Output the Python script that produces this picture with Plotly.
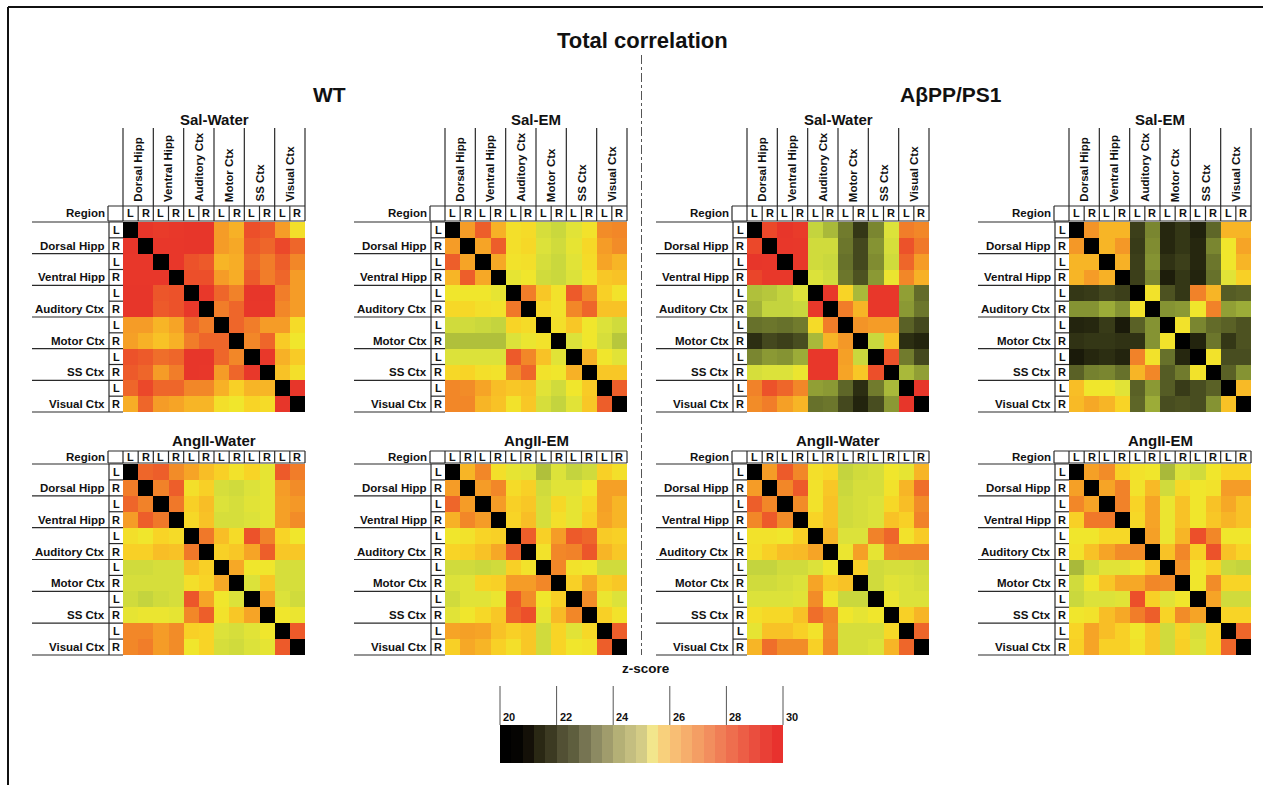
import plotly.graph_objects as go

# ---------------- data ----------------
REGIONS = ["Dorsal Hipp", "Ventral Hipp", "Auditory Ctx", "Motor Ctx", "SS Ctx", "Visual Ctx"]
SIDES = ["L", "R"]
CELLS = [f"{r} {s}" for r in REGIONS for s in SIDES]
GROUP_TITLES = ["WT", "AβPP/PS1"]
MAIN_TITLE = "Total correlation"
CBAR_TITLE = "z-score"

WT_SAL_WATER = [
    [20.0, 29.5, 29.2, 29.3, 29.5, 29.5, 26.8, 26.3, 28.6, 28.3, 26.8, 25.2],
    [29.5, 20.0, 29.4, 29.4, 29.5, 29.5, 26.8, 26.5, 28.3, 28.0, 28.8, 28.0],
    [29.4, 29.4, 20.0, 29.4, 28.5, 28.3, 26.2, 26.4, 28.0, 27.5, 28.2, 27.3],
    [29.4, 29.4, 29.4, 20.0, 28.6, 28.6, 26.8, 26.4, 28.3, 27.5, 28.0, 26.8],
    [29.5, 29.5, 28.4, 28.5, 20.0, 29.3, 28.0, 27.4, 29.5, 29.5, 27.5, 26.8],
    [29.5, 29.5, 28.3, 28.5, 29.3, 20.0, 27.5, 28.0, 29.4, 29.4, 27.3, 26.8],
    [26.8, 26.8, 26.2, 26.6, 28.0, 27.5, 20.0, 28.0, 27.5, 26.8, 26.8, 25.3],
    [26.7, 26.3, 25.9, 26.3, 27.5, 28.0, 28.0, 20.0, 27.3, 28.0, 25.7, 25.0],
    [28.5, 28.3, 27.8, 28.0, 29.5, 29.5, 28.0, 27.3, 20.0, 29.3, 26.3, 25.7],
    [28.3, 28.0, 26.8, 27.5, 29.5, 29.4, 26.8, 28.0, 29.3, 20.0, 25.9, 25.2],
    [28.0, 28.8, 28.0, 28.0, 27.3, 27.3, 26.3, 25.6, 26.2, 26.2, 20.0, 29.5],
    [26.4, 28.0, 26.8, 26.6, 26.2, 26.2, 25.2, 25.0, 25.5, 25.3, 29.5, 20.0],
]

WT_SAL_EM = [
    [20.0, 26.8, 28.2, 26.3, 25.2, 25.3, 24.5, 24.3, 24.7, 25.1, 27.2, 27.3],
    [26.8, 20.0, 26.6, 28.2, 25.2, 25.4, 24.6, 24.4, 24.8, 25.4, 26.8, 27.2],
    [28.2, 26.6, 20.0, 26.5, 25.1, 25.2, 24.5, 24.3, 24.7, 25.3, 26.6, 26.2],
    [26.2, 28.2, 26.5, 20.0, 24.8, 25.0, 24.4, 24.3, 24.6, 25.1, 25.8, 25.9],
    [25.0, 25.0, 25.0, 24.8, 20.0, 27.5, 25.8, 25.1, 28.3, 27.3, 25.6, 25.1],
    [25.4, 25.4, 25.2, 25.1, 27.6, 20.0, 25.4, 25.1, 27.3, 28.0, 25.9, 25.9],
    [24.4, 24.4, 24.3, 24.2, 25.5, 25.3, 20.0, 25.2, 25.8, 25.0, 24.6, 24.4],
    [23.9, 23.9, 23.9, 23.9, 24.6, 24.9, 25.1, 20.0, 24.6, 25.0, 24.5, 24.0],
    [24.6, 24.6, 24.6, 24.6, 28.3, 27.3, 25.9, 24.7, 20.0, 26.3, 25.0, 24.7],
    [25.4, 25.5, 25.2, 25.1, 27.2, 28.0, 25.1, 25.0, 26.3, 20.0, 25.8, 25.8],
    [27.3, 27.2, 26.6, 26.0, 25.8, 25.9, 24.7, 24.4, 25.0, 25.7, 20.0, 28.2],
    [27.3, 27.3, 26.2, 25.9, 25.1, 25.8, 24.5, 24.2, 24.7, 25.8, 28.2, 20.0],
]

APP_SAL_WATER = [
    [20.0, 28.8, 29.5, 29.2, 24.2, 23.8, 22.8, 21.4, 23.0, 24.6, 27.5, 27.3],
    [28.8, 20.0, 29.4, 29.3, 24.4, 24.4, 22.7, 21.8, 23.2, 24.5, 28.5, 27.6],
    [29.5, 29.4, 20.0, 29.3, 24.4, 24.3, 22.6, 21.8, 23.1, 24.4, 28.0, 26.8],
    [28.9, 29.3, 29.3, 20.0, 24.6, 24.4, 22.7, 22.0, 23.3, 24.9, 27.3, 26.3],
    [23.9, 24.0, 24.2, 24.6, 20.0, 29.3, 25.5, 23.8, 29.4, 29.4, 23.4, 22.5],
    [23.7, 24.2, 24.2, 24.3, 29.3, 20.0, 27.5, 26.2, 29.4, 29.4, 23.3, 22.7],
    [22.6, 22.7, 22.6, 22.8, 25.3, 27.5, 20.0, 27.0, 26.8, 26.8, 22.3, 21.8],
    [21.2, 21.8, 21.6, 21.9, 23.8, 26.2, 26.9, 20.0, 24.3, 25.9, 21.2, 20.9],
    [23.0, 23.3, 23.2, 23.6, 29.4, 29.4, 26.7, 24.3, 20.0, 28.5, 22.8, 21.8],
    [24.5, 24.6, 24.6, 24.9, 29.4, 29.4, 26.6, 25.8, 28.6, 20.0, 23.8, 23.4],
    [27.4, 28.5, 28.0, 27.3, 23.4, 23.3, 22.4, 21.2, 22.8, 23.8, 20.0, 29.5],
    [27.2, 27.5, 26.7, 26.2, 22.6, 22.7, 21.8, 20.9, 21.9, 23.3, 29.5, 20.0],
]

APP_SAL_EM = [
    [20.0, 27.0, 26.2, 26.2, 21.6, 23.0, 21.0, 21.4, 20.8, 22.4, 26.2, 26.2],
    [26.9, 20.0, 26.2, 26.9, 21.5, 23.1, 21.0, 21.4, 21.0, 23.0, 25.0, 26.6],
    [26.2, 26.2, 20.0, 26.3, 21.6, 23.2, 21.3, 21.6, 21.0, 22.7, 25.0, 26.2],
    [26.2, 26.8, 26.3, 20.0, 21.6, 23.0, 20.7, 21.4, 20.9, 22.6, 24.7, 25.6],
    [21.4, 21.5, 21.8, 21.6, 20.0, 25.1, 22.0, 21.4, 27.4, 26.2, 22.2, 22.3],
    [23.2, 23.2, 23.6, 23.2, 25.1, 20.0, 23.2, 23.3, 25.0, 27.4, 23.4, 23.6],
    [20.9, 21.0, 21.5, 20.6, 22.3, 23.2, 20.0, 25.1, 23.0, 22.5, 22.3, 22.0],
    [21.3, 21.4, 21.4, 21.3, 21.3, 23.2, 25.1, 20.0, 20.9, 22.7, 21.4, 22.0],
    [20.6, 21.0, 21.2, 20.9, 27.4, 25.1, 22.6, 21.0, 20.0, 25.1, 21.9, 21.9],
    [22.3, 22.9, 23.0, 22.6, 26.2, 27.3, 22.2, 22.8, 25.1, 20.0, 22.3, 23.2],
    [26.0, 25.0, 25.0, 24.7, 22.3, 23.3, 22.2, 21.5, 21.9, 22.3, 20.0, 26.1],
    [26.1, 26.5, 26.2, 25.5, 22.4, 23.6, 21.9, 22.0, 21.9, 23.2, 25.9, 20.0],
]

WT_ANG_WATER = [
    [20.0, 28.0, 28.2, 27.2, 26.6, 26.0, 25.6, 25.1, 25.5, 24.8, 28.3, 27.5],
    [27.5, 20.0, 27.4, 28.2, 25.2, 25.6, 24.5, 24.4, 24.6, 24.8, 26.8, 27.2],
    [28.0, 27.4, 20.0, 27.6, 25.6, 26.0, 24.6, 24.5, 24.7, 24.8, 26.7, 26.9],
    [26.8, 28.2, 27.6, 20.0, 25.4, 25.9, 24.5, 24.5, 24.6, 24.8, 26.7, 27.2],
    [25.2, 25.0, 25.5, 25.3, 20.0, 27.6, 26.0, 25.3, 28.5, 27.4, 25.5, 25.0],
    [25.6, 25.6, 26.0, 25.9, 27.6, 20.0, 25.6, 25.8, 26.6, 28.2, 25.8, 25.8],
    [24.4, 24.4, 24.5, 24.5, 26.0, 25.6, 20.0, 26.5, 25.0, 25.0, 24.5, 24.5],
    [24.5, 24.5, 24.5, 24.5, 25.2, 25.5, 26.5, 20.0, 24.6, 25.8, 24.5, 24.5],
    [24.4, 24.2, 24.4, 24.5, 28.4, 26.6, 25.0, 24.6, 20.0, 26.6, 24.6, 24.4],
    [24.8, 24.9, 24.9, 24.8, 27.3, 28.2, 25.1, 25.8, 26.6, 20.0, 25.0, 24.9],
    [27.3, 27.3, 26.8, 27.2, 25.6, 25.5, 24.6, 24.5, 24.7, 25.0, 20.0, 28.3],
    [27.3, 27.5, 26.8, 27.2, 25.0, 25.5, 24.5, 24.4, 24.6, 24.8, 28.3, 20.0],
]

WT_ANG_EM = [
    [20.0, 26.2, 27.3, 25.2, 24.8, 24.7, 23.9, 24.6, 24.2, 24.4, 25.6, 25.2],
    [26.8, 20.0, 26.8, 27.3, 25.3, 25.6, 24.4, 24.7, 24.7, 25.0, 26.7, 26.7],
    [28.0, 26.8, 20.0, 26.8, 25.6, 25.8, 24.5, 25.4, 24.8, 25.4, 26.7, 26.2],
    [26.3, 27.3, 26.8, 20.0, 25.5, 26.0, 24.5, 25.2, 24.8, 25.6, 26.6, 26.2],
    [25.0, 25.1, 25.5, 25.6, 20.0, 28.2, 25.6, 26.8, 28.3, 28.0, 25.7, 25.6],
    [25.5, 25.6, 25.9, 26.5, 28.2, 20.0, 25.1, 27.3, 27.4, 28.4, 26.2, 25.8],
    [24.4, 24.4, 24.3, 24.4, 25.6, 25.1, 20.0, 27.3, 25.1, 25.0, 24.4, 24.4],
    [24.6, 24.7, 25.5, 25.6, 26.8, 26.8, 27.3, 20.0, 25.6, 26.5, 25.6, 25.8],
    [24.4, 24.7, 24.7, 24.9, 28.3, 27.2, 25.0, 25.6, 20.0, 27.2, 24.9, 24.6],
    [24.7, 25.0, 25.4, 25.8, 28.1, 28.6, 24.8, 26.1, 27.3, 20.0, 25.6, 25.1],
    [26.6, 26.7, 26.6, 25.9, 25.6, 25.8, 24.4, 25.5, 24.7, 25.4, 20.0, 28.2],
    [25.6, 26.5, 26.2, 25.6, 25.2, 25.8, 24.4, 25.5, 25.0, 25.1, 28.2, 20.0],
]

APP_ANG_WATER = [
    [20.0, 26.8, 28.3, 27.3, 25.2, 25.4, 24.2, 24.4, 24.5, 25.0, 24.8, 26.2],
    [26.8, 20.0, 27.3, 28.3, 25.1, 25.8, 24.3, 24.5, 24.5, 25.1, 26.2, 27.8],
    [28.2, 27.3, 20.0, 27.2, 25.1, 25.9, 24.4, 24.5, 24.6, 25.4, 26.0, 27.2],
    [27.3, 28.3, 27.2, 20.0, 25.5, 25.9, 24.4, 24.5, 24.6, 25.9, 25.6, 27.4],
    [25.1, 25.1, 25.0, 25.6, 20.0, 26.2, 24.6, 24.6, 27.4, 28.0, 25.1, 25.7],
    [25.2, 25.6, 26.0, 26.1, 26.6, 20.0, 24.9, 26.7, 24.8, 27.3, 27.4, 27.4],
    [24.2, 24.2, 24.4, 24.4, 24.6, 25.0, 20.0, 25.6, 24.4, 24.5, 24.5, 24.4],
    [24.4, 24.4, 24.5, 24.6, 26.6, 25.7, 25.9, 20.0, 24.4, 24.7, 24.6, 24.5],
    [24.6, 24.6, 24.6, 24.7, 27.2, 25.0, 24.3, 24.3, 20.0, 24.9, 24.6, 24.6],
    [25.2, 25.4, 25.4, 25.9, 27.8, 27.3, 25.0, 24.8, 25.0, 20.0, 25.6, 26.2],
    [24.8, 25.9, 25.9, 25.6, 25.1, 27.2, 24.5, 24.5, 24.5, 25.4, 20.0, 28.0],
    [26.2, 27.8, 27.2, 27.2, 25.6, 27.3, 24.5, 24.5, 24.6, 26.2, 28.0, 20.0],
]

APP_ANG_EM = [
    [20.0, 26.7, 27.2, 25.6, 25.1, 25.0, 23.8, 24.6, 24.4, 25.0, 25.5, 25.5],
    [26.7, 20.0, 26.6, 27.4, 25.1, 26.1, 24.4, 25.4, 25.0, 25.1, 26.8, 26.8],
    [27.3, 26.6, 20.0, 27.4, 25.5, 26.6, 24.9, 25.9, 25.0, 25.9, 26.5, 25.9],
    [25.6, 27.6, 27.6, 20.0, 25.4, 26.6, 24.9, 25.9, 25.0, 25.8, 26.2, 25.9],
    [25.0, 25.0, 25.4, 25.4, 20.0, 26.7, 24.9, 26.2, 28.6, 27.3, 25.0, 25.0],
    [25.1, 25.9, 26.6, 27.2, 27.2, 20.0, 25.9, 27.3, 25.6, 28.5, 25.9, 25.5],
    [23.8, 24.4, 24.7, 24.7, 25.0, 25.8, 20.0, 27.0, 25.0, 25.5, 24.3, 24.2],
    [24.4, 25.0, 25.8, 26.5, 26.5, 27.3, 27.2, 20.0, 25.0, 27.2, 25.5, 25.5],
    [24.3, 24.6, 24.6, 24.7, 28.6, 25.6, 24.7, 25.0, 20.0, 26.6, 24.4, 24.4],
    [25.0, 25.1, 26.0, 26.5, 27.5, 28.2, 25.5, 27.2, 26.6, 20.0, 25.5, 25.5],
    [25.5, 26.6, 26.0, 25.6, 25.0, 25.8, 24.4, 25.5, 24.5, 25.5, 20.0, 28.0],
    [25.6, 26.6, 25.6, 25.6, 25.1, 25.8, 24.4, 25.6, 24.6, 25.5, 28.0, 20.0],
]

ZSCALE_TICKS = [20, 22, 24, 26, 28, 30]
ZSCALE_BINS = [20.2, 20.6, 21.0, 21.4, 21.8, 22.2, 22.6, 23.0, 23.4, 23.8,
               24.2, 24.6, 25.0, 25.4, 25.8, 26.2, 26.6, 27.0, 27.4, 27.8,
               28.2, 28.6, 29.0, 29.4, 29.8]

# ---------------- styling ----------------
W, H = 1267, 785
ZMIN, ZMAX = 20, 30
FONT = "Liberation Sans, Arial, sans-serif"
LINE = dict(color="#2a2a2a", width=1.2)

HEAT_STOPS = [
    (20.0, "#000000"), (20.6, "#1a1a0a"), (21.2, "#2c2e12"), (21.8, "#44481e"),
    (22.4, "#5e6628"), (23.0, "#7a8630"), (23.6, "#9cac38"), (24.2, "#c4d43e"),
    (24.6, "#dce23a"), (25.0, "#f0e62c"), (25.5, "#f8d426"), (26.0, "#f8be26"),
    (26.6, "#f6a426"), (27.2, "#f28c28"), (27.8, "#ef6e2a"), (28.5, "#ec522a"),
    (29.3, "#e8382a"), (30.0, "#e6302a"),
]
HEAT_SCALE = [[(v - ZMIN) / (ZMAX - ZMIN), c] for v, c in HEAT_STOPS]

BAR_COLORS = ["#000000", "#050402", "#141008", "#2a2814", "#3c3a22", "#525034",
              "#5e5e3e", "#767452", "#8c8a62", "#a09c6c", "#b4b076", "#c4be80",
              "#d4cc86", "#f2e68c", "#f8d07c", "#f8be74", "#f6ae6c", "#f49e64",
              "#f28e5e", "#f07e56", "#ee6e4e", "#ec5e46", "#ea4e3e", "#e94036",
              "#e8322e"]
BAR_SCALE = [[0.0, BAR_COLORS[0]]] + \
    [[(v - ZMIN) / (ZMAX - ZMIN), c] for v, c in zip(ZSCALE_BINS, BAR_COLORS)] + \
    [[1.0, BAR_COLORS[-1]]]

# panels: (matrix, title, heat-left px, heat-top px, heat-bottom px, has column labels)
PANELS = [
    (WT_SAL_WATER, "Sal-Water", 123, 222, 412, True),
    (WT_SAL_EM, "Sal-EM", 445, 222, 412, True),
    (APP_SAL_WATER, "Sal-Water", 747, 222, 412, True),
    (APP_SAL_EM, "Sal-EM", 1069, 222, 412, True),
    (WT_ANG_WATER, "AngII-Water", 123, 464, 655, False),
    (WT_ANG_EM, "AngII-EM", 445, 464, 655, False),
    (APP_ANG_WATER, "AngII-Water", 747, 464, 655, False),
    (APP_ANG_EM, "AngII-EM", 1069, 464, 655, False),
]
HEAT_W = 182

fig = go.Figure()
shapes, annots = [], []


def txt(s, size, **kw):
    d = dict(text=f"<b>{s}</b>", showarrow=False, font=dict(family=FONT, size=size, color="#111"),
             borderpad=0)
    d.update(kw)
    return d


n = len(CELLS)
for i, (z, title, L, T, B, top) in enumerate(PANELS, start=1):
    R = L + HEAT_W
    cw = (R - L) / n
    ch = (B - T) / n
    dl, dr = L - 96, R + 1
    dt = T - (112 if top else 36)
    db = B + 1
    xr = [-0.5 - (L - dl) / cw, n - 0.5 + (dr - R) / cw]
    yr = [n - 0.5 + (db - B) / ch, -0.5 - (T - dt) / ch]
    sfx = "" if i == 1 else str(i)
    fig.update_layout(**{
        f"xaxis{sfx}": dict(domain=[dl / W, dr / W], range=xr, visible=False, fixedrange=True),
        f"yaxis{sfx}": dict(domain=[1 - db / H, 1 - dt / H], range=yr, visible=False, fixedrange=True),
    })
    xref, yref = f"x{sfx}", f"y{sfx}"
    fig.add_trace(go.Heatmap(
        z=z, x=list(range(n)), y=list(range(n)), coloraxis="coloraxis",
        xaxis=xref, yaxis=yref, customdata=[[f"{a} / {b}" for b in CELLS] for a in CELLS],
        hovertemplate="%{customdata}: %{z}<extra></extra>",
    ))

    def ln(x0, y0, x1, y1):
        shapes.append(dict(type="line", xref=xref, yref=yref, x0=x0, y0=y0, x1=x1, y1=y1,
                           line=LINE, layer="above"))

    # ---- left row labels ----
    x_far = -0.5 - 91 / cw
    x_col = -0.5 - 14 / cw
    for g in range(len(REGIONS) + 1):
        ln(x_far, -0.5 + 2 * g, -0.5, -0.5 + 2 * g)
    ln(x_col, -0.5, x_col, n - 0.5)
    for g in range(len(REGIONS)):
        ln(x_col, 0.5 + 2 * g, -0.5, 0.5 + 2 * g)
        annots.append(txt(REGIONS[g], 11.5, xref=xref, yref=yref, x=-0.5 - 17 / cw, y=2 * g + 1,
                          xanchor="right", yanchor="middle"))
    for r in range(n):
        annots.append(txt(SIDES[r % 2], 11, xref=xref, yref=yref, x=-0.5 - 7 / cw, y=r,
                          xanchor="center", yanchor="middle"))

    # ---- header row (L / R) ----
    y_top = -0.5 - (16 if top else 13) / ch
    y_bot = -0.5 - 1 / ch
    x_hl = -0.5 - 15 / cw
    ln(x_hl, y_top, n - 0.5, y_top)
    ln(x_hl, y_bot, n - 0.5, y_bot)
    ln(x_hl, y_top, x_hl, y_bot)
    for j in range(n + 1):
        ln(-0.5 + j, y_top, -0.5 + j, y_bot)
    for j in range(n):
        annots.append(txt(SIDES[j % 2], 11, xref=xref, yref=yref, x=j, y=(y_top + y_bot) / 2,
                          xanchor="center", yanchor="middle"))
    annots.append(txt("Region", 11.5, xref=xref, yref=yref, x=-0.5 - 17 / cw, y=(y_top + y_bot) / 2,
                      xanchor="right", yanchor="middle"))

    # ---- column region labels ----
    if top:
        y_lab_top = -0.5 - 94 / ch
        for g in range(len(REGIONS) + 1):
            ln(-0.5 + 2 * g, y_lab_top, -0.5 + 2 * g, y_top)
        for g in range(len(REGIONS)):
            annots.append(txt(REGIONS[g], 11.5, xref=xref, yref=yref, x=2 * g + 0.5,
                              y=y_top - 3 / ch, textangle=-90, xanchor="center", yanchor="bottom"))

    # ---- panel title ----
    annots.append(txt(title, 15, xref=xref, yref=yref, x=(n - 1) / 2,
                      y=-0.5 - (102 if top else 24) / ch, xanchor="center", yanchor="middle"))

# ---------------- z-score colour strip ----------------
cb_l, cb_r, cb_t, cb_b = 497, 786, 686, 764
cb_x0, cb_x1 = 500, 783
ppu = (cb_x1 - cb_x0) / (ZMAX - ZMIN)
bar_h = 38
ib = len(PANELS) + 1
fig.update_layout(**{
    f"xaxis{ib}": dict(domain=[cb_l / W, cb_r / W],
                       range=[ZMIN - (cb_x0 - cb_l) / ppu, ZMAX + (cb_r - cb_x1) / ppu],
                       visible=False, fixedrange=True),
    f"yaxis{ib}": dict(domain=[1 - cb_b / H, 1 - cb_t / H],
                       range=[-(cb_b - 763) / bar_h, 1 + (763 - bar_h - cb_t) / bar_h],
                       visible=False, fixedrange=True),
})
fig.add_trace(go.Heatmap(z=[ZSCALE_BINS], x=ZSCALE_BINS, y=[0.5], coloraxis="coloraxis2",
                         xaxis=f"x{ib}", yaxis=f"y{ib}", hoverinfo="skip"))
for v in ZSCALE_TICKS:
    shapes.append(dict(type="line", xref=f"x{ib}", yref=f"y{ib}", x0=v, x1=v, y0=1,
                       y1=1 + (763 - bar_h - cb_t) / bar_h, line=dict(color="#555", width=1)))
    annots.append(txt(str(v), 11, xref=f"x{ib}", yref=f"y{ib}", x=v, y=1.02, xshift=2,
                      xanchor="left", yanchor="bottom"))
annots.append(txt(CBAR_TITLE, 13.5, xref="paper", yref="paper", x=646 / W, y=1 - 668 / H,
                  xanchor="center", yanchor="middle"))

# ---------------- big titles, divider, frame ----------------
annots.append(txt(MAIN_TITLE, 22, xref="paper", yref="paper", x=642 / W, y=1 - 41 / H,
                  xanchor="center", yanchor="middle"))
annots.append(txt(GROUP_TITLES[0], 21, xref="paper", yref="paper", x=329 / W, y=1 - 95 / H,
                  xanchor="center", yanchor="middle"))
annots.append(txt(GROUP_TITLES[1], 21, xref="paper", yref="paper", x=951 / W, y=1 - 95 / H,
                  xanchor="center", yanchor="middle"))
shapes.append(dict(type="line", xref="paper", yref="paper", x0=641.5 / W, x1=641.5 / W,
                   y0=1 - 55 / H, y1=1 - 655 / H, line=dict(color="#555", width=1, dash="dashdot")))
shapes.append(dict(type="line", xref="paper", yref="paper", x0=8 / W, x1=1263 / W,
                   y0=1 - 7 / H, y1=1 - 7 / H, line=dict(color="#111", width=2)))
shapes.append(dict(type="line", xref="paper", yref="paper", x0=8 / W, x1=8 / W,
                   y0=1 - 7 / H, y1=0, line=dict(color="#111", width=2)))

fig.update_layout(
    width=W, height=H, margin=dict(l=0, r=0, t=0, b=0),
    paper_bgcolor="white", plot_bgcolor="white",
    coloraxis=dict(colorscale=HEAT_SCALE, cmin=ZMIN, cmax=ZMAX, showscale=False),
    coloraxis2=dict(colorscale=BAR_SCALE, cmin=ZMIN, cmax=ZMAX, showscale=False),
    shapes=shapes, annotations=annots, showlegend=False,
    font=dict(family=FONT),
)

fig.write_html("out.html", config={"displayModeBar": False},
               post_script="document.body.style.margin='0';document.body.style.overflow='hidden';")
